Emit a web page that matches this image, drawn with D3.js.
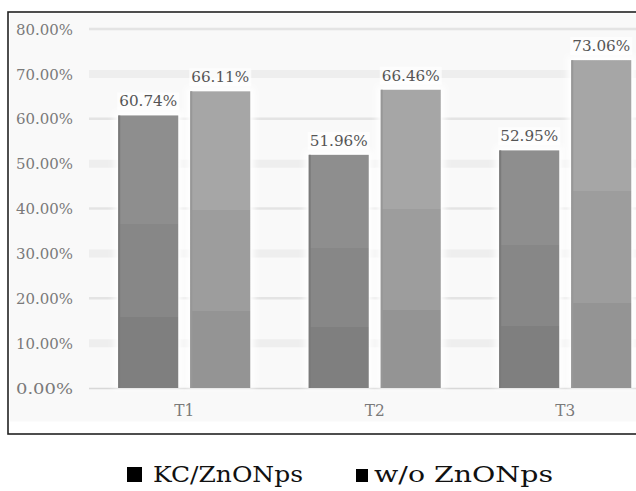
<!DOCTYPE html>
<html>
<head>
<meta charset="utf-8">
<script src="https://cdn.jsdelivr.net/npm/d3@7"></script>
<style>
  html, body { margin: 0; padding: 0; background: #ffffff; }
  svg { display: block; }
</style>
</head>
<body>
<svg id="chart" width="636" height="491"></svg>
<script>
// Categories, series and tick values
const categories = ["T1", "T2", "T3"];
const seriesNames = ["KC/ZnONps", "w/o ZnONps"];
const kcValues = [60.74, 51.96, 52.95];
const woValues = [66.11, 66.46, 73.06];
const yTicks = [0, 10, 20, 30, 40, 50, 60, 70, 80];

const svg = d3.select("#chart");
const serif = "'DejaVu Serif', serif";

// Plot geometry (the plot runs past the right edge of the page)
const plotLeft = 89, plotRight = 660.5, plotTop = 29, plotBottom = 388;

const x = d3.scaleBand().domain(categories).range([plotLeft, plotRight]).padding(0);
const xInner = d3.scaleBand().domain(seriesNames).range([0, x.bandwidth()])
  .paddingInner(0.1667).paddingOuter(0.406);
const y = d3.scaleLinear().domain([0, 80]).range([plotBottom, plotTop]);

const rows = categories.map((c, i) => ({
  category: c,
  values: [
    { series: seriesNames[0], value: kcValues[i] },
    { series: seriesNames[1], value: woValues[i] }
  ]
}));

// defs: banded fills per series and a soft white glow behind the bars
const defs = svg.append("defs");
const bandStops = {
  "KC/ZnONps": ["#8e8e8e", "#878787", "#7f7f7f"],
  "w/o ZnONps": ["#a6a6a6", "#9d9d9d", "#949494"]
};
seriesNames.forEach((s, i) => {
  const g = defs.append("linearGradient").attr("id", "fill" + i)
    .attr("x1", 0).attr("y1", 0).attr("x2", 0).attr("y2", 1);
  const c = bandStops[s];
  [[0, c[0]], [0.40, c[0]], [0.40, c[1]], [0.74, c[1]], [0.74, c[2]], [1, c[2]]]
    .forEach(([o, col]) => g.append("stop").attr("offset", o).attr("stop-color", col));
});
const glow = defs.append("filter").attr("id", "glow")
  .attr("x", "-30%").attr("y", "-30%").attr("width", "160%").attr("height", "160%");
glow.append("feGaussianBlur").attr("stdDeviation", 3);

const color = d3.scaleOrdinal().domain(seriesNames).range(["url(#fill0)", "url(#fill1)"]);

// Frame around the chart
svg.append("rect").attr("x", 8).attr("y", 12).attr("width", 700).attr("height", 422)
  .attr("fill", "#ffffff").attr("stroke", "#222222").attr("stroke-width", 1.6);
svg.append("rect").attr("x", 10).attr("y", 13.5).attr("width", 700).attr("height", 408)
  .attr("fill", "#f9f9f9");

// Gridlines: thin lines on even deciles, wider soft bands on odd deciles
const grid = svg.append("g");
grid.selectAll("line").data(yTicks.filter(t => t > 0)).join("line")
  .attr("x1", plotLeft).attr("x2", plotRight)
  .attr("y1", d => y(d)).attr("y2", d => y(d))
  .attr("stroke", d => (d / 10) % 2 === 1 ? "#eeeeee" : "#e4e4e4")
  .attr("stroke-width", d => (d / 10) % 2 === 1 ? 8 : 2.5);

// Baseline
svg.append("line").attr("x1", plotLeft).attr("x2", plotRight)
  .attr("y1", y(0) + 0.5).attr("y2", y(0) + 0.5)
  .attr("stroke", "#d8d8d8").attr("stroke-width", 1.5);

// Y axis labels
const yAxis = d3.axisLeft(y).tickValues(yTicks).tickSize(0).tickPadding(0)
  .tickFormat(d => d3.format(".2f")(d) + "%");
const yg = svg.append("g").attr("transform", "translate(73,0)").call(yAxis);
yg.select(".domain").remove();
yg.selectAll("text")
  .attr("font-family", serif).attr("font-size", 14.5)
  .attr("fill", "#7a7a7a").attr("dy", "0.36em")
  .attr("textLength", 57).attr("lengthAdjust", "spacingAndGlyphs");

// X axis labels
const xAxis = d3.axisBottom(x).tickSize(0).tickPadding(0);
const xg = svg.append("g").attr("transform", `translate(0,${y(0) + 16})`).call(xAxis);
xg.select(".domain").remove();
xg.selectAll("text")
  .attr("font-family", serif).attr("font-size", 17)
  .attr("fill", "#7a7a7a")
  .attr("textLength", 20).attr("lengthAdjust", "spacingAndGlyphs");

// Bars
const groups = svg.append("g").selectAll("g").data(rows).join("g")
  .attr("transform", d => `translate(${x(d.category)},0)`);

groups.selectAll("rect.halo").data(d => d.values).join("rect").attr("class", "halo")
  .attr("x", d => xInner(d.series) - 4).attr("width", xInner.bandwidth() + 8)
  .attr("y", d => y(d.value) - 4).attr("height", d => y(0) - y(d.value) + 4)
  .attr("fill", "#ffffff").attr("filter", "url(#glow)");

groups.selectAll("rect.bar").data(d => d.values).join("rect").attr("class", "bar")
  .attr("x", d => xInner(d.series)).attr("width", xInner.bandwidth())
  .attr("y", d => y(d.value)).attr("height", d => y(0) - y(d.value))
  .attr("fill", d => color(d.series));

// Darker left edge on the bars
groups.selectAll("line.edge").data(d => d.values).join("line").attr("class", "edge")
  .attr("x1", d => xInner(d.series) + 1).attr("x2", d => xInner(d.series) + 1)
  .attr("y1", d => y(d.value)).attr("y2", y(0))
  .attr("stroke", d => d.series === seriesNames[0] ? "#7a7a7a" : "#979797")
  .attr("stroke-width", 2);

// Value labels with a white backing
const fmt = d => d3.format(".2f")(d) + "%";
const labels = groups.selectAll("g.lbl").data(d => d.values).join("g").attr("class", "lbl")
  .attr("transform", d => `translate(${xInner(d.series) + xInner.bandwidth() / 2},${y(d.value) - 9})`);
labels.append("rect").attr("x", -31).attr("y", -14).attr("width", 62).attr("height", 18)
  .attr("fill", "#ffffff").attr("opacity", 0.7);
labels.append("text").attr("text-anchor", "middle")
  .attr("font-family", serif).attr("font-size", 14.5)
  .attr("fill", "#555555")
  .attr("textLength", 58).attr("lengthAdjust", "spacingAndGlyphs")
  .text(d => fmt(d.value));

// Legend under the frame
const legendItems = [
  { name: seriesNames[0], sx: 127, sy: 467, sw: 15, sh: 15, tx: 153, tl: 150 },
  { name: seriesNames[1], sx: 356, sy: 469, sw: 12, sh: 13, tx: 374, tl: 179 }
];
const lg = svg.append("g").selectAll("g").data(legendItems).join("g");
lg.append("rect").attr("x", d => d.sx).attr("y", d => d.sy)
  .attr("width", d => d.sw).attr("height", d => d.sh).attr("fill", "#000000");
lg.append("text").attr("x", d => d.tx).attr("y", 482)
  .attr("font-family", serif).attr("font-size", 23)
  .attr("fill", "#111111")
  .attr("textLength", d => d.tl).attr("lengthAdjust", "spacingAndGlyphs")
  .text(d => d.name);
</script>
</body>
</html>
